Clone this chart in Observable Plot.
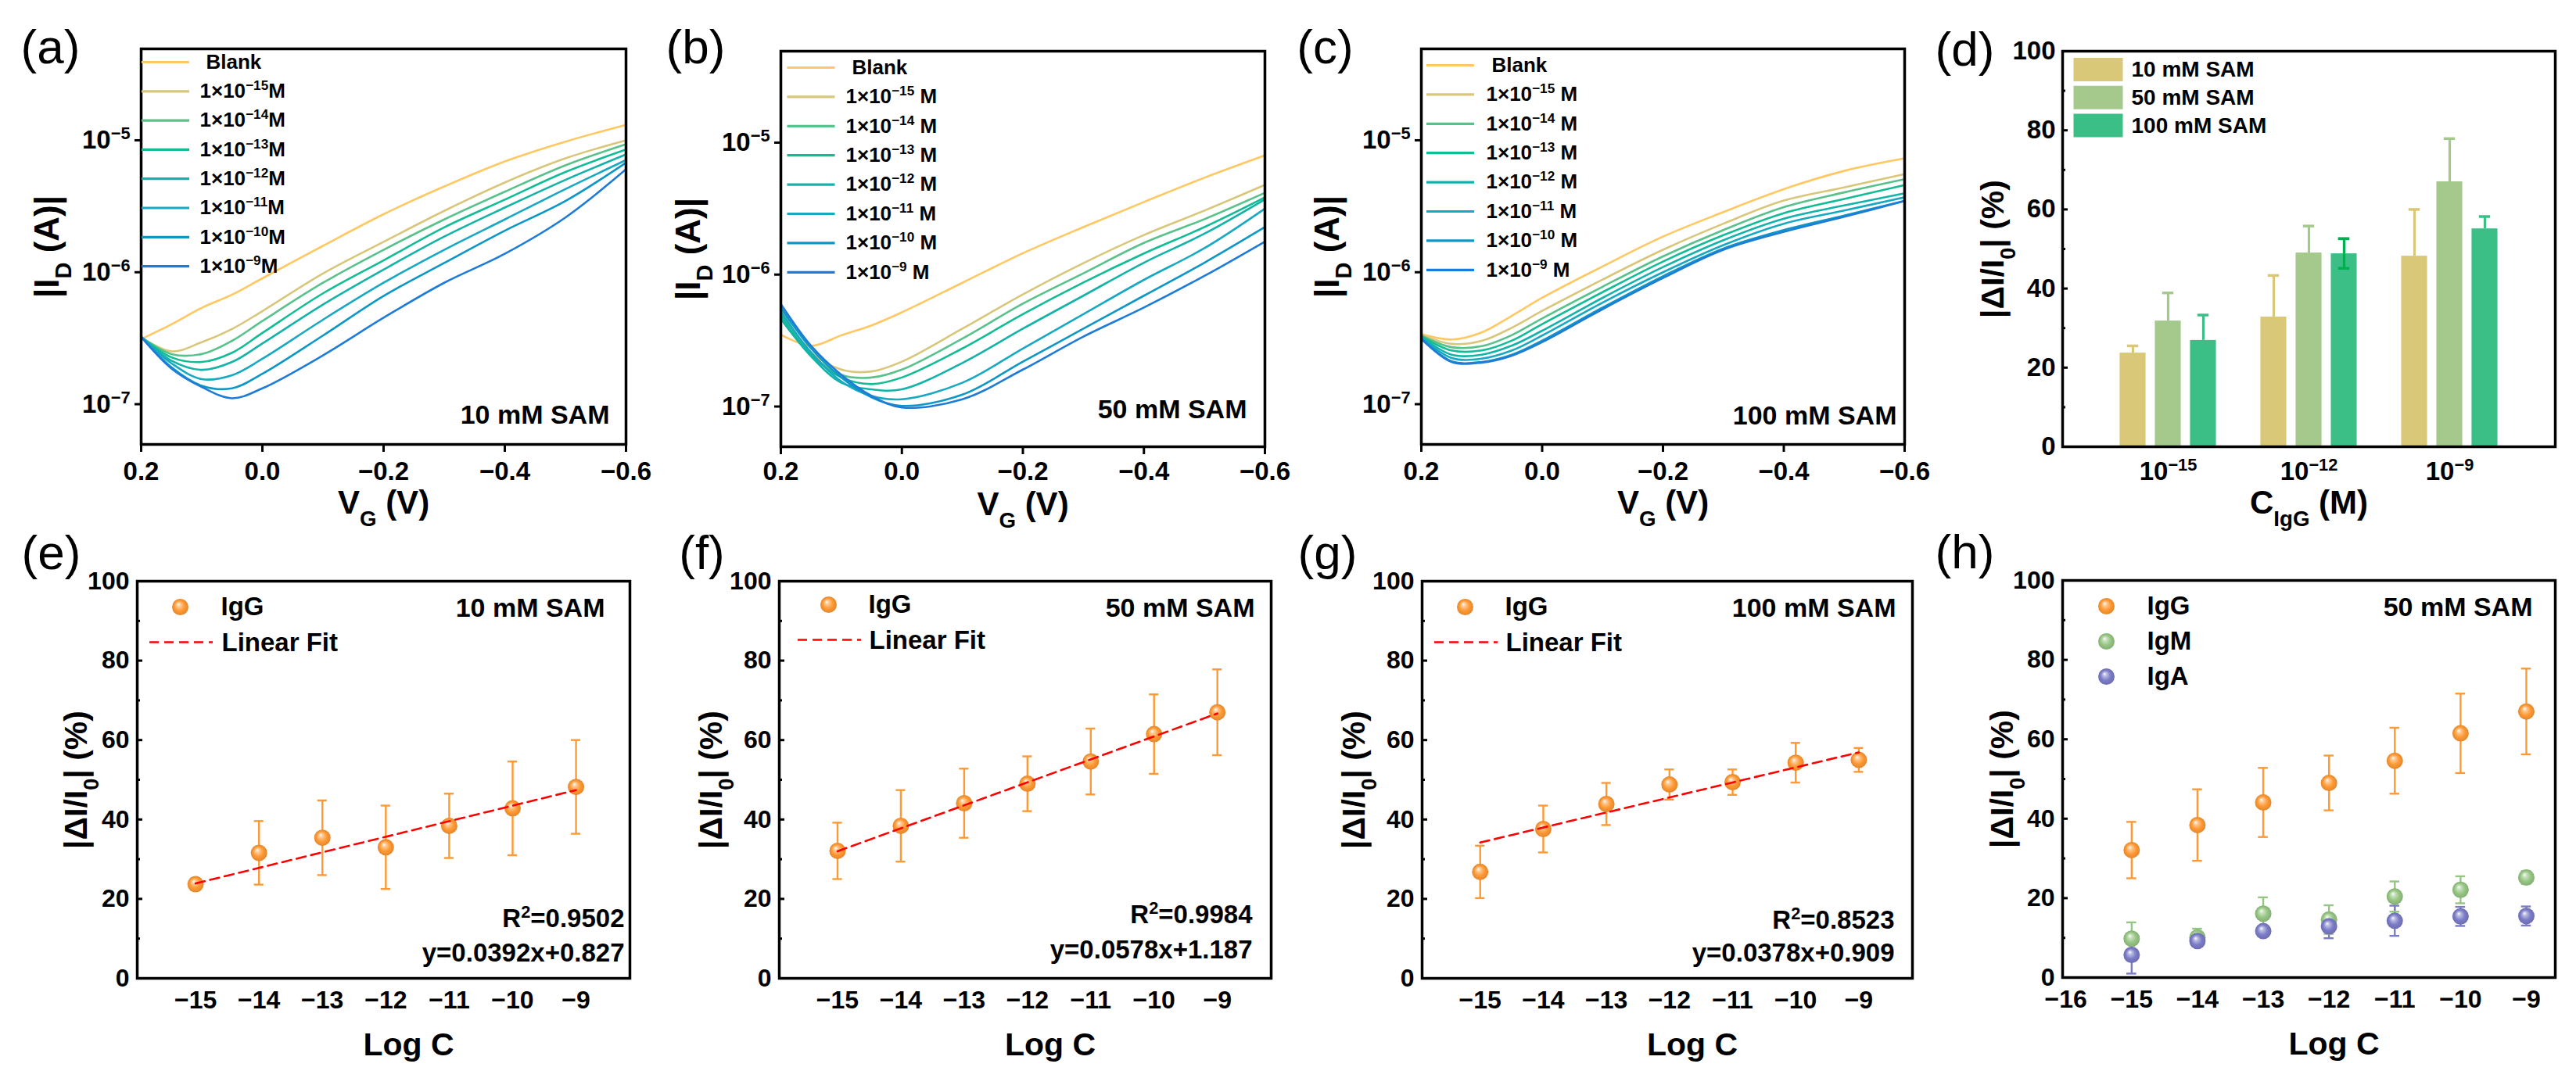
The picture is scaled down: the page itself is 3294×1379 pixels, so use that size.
<!DOCTYPE html>
<html>
<head>
<meta charset="utf-8">
<script src="https://cdn.jsdelivr.net/npm/d3@7"></script>
<script src="https://cdn.jsdelivr.net/npm/@observablehq/plot@0.6"></script>
<style>
  body { margin: 0; background: #fff; }
  #fig { position: relative; width: 3294px; height: 1379px; background: #fff; overflow: hidden; }
  .panel { position: absolute; }
</style>
</head>
<body>
<div id="fig"></div>
<script>
// ---------- transfer curves (a)-(c): log10 |I_D| read at each V_G ----------
const vg = [0.2, 0.15, 0.1, 0.05, 0.0, -0.1, -0.2, -0.3, -0.4, -0.5, -0.6];
const vgTicks = [0.2, 0.0, -0.2, -0.4, -0.6];
const idTicks = [1e-7, 1e-6, 1e-5];
const concExp = [null, "−15", "−14", "−13", "−12", "−11", "−10", "−9"];
const ivColors = ["#FFC862", "#D8C77A", "#58C28A", "#12BC95", "#14B3AA", "#17A9C2", "#0C97C6", "#1E7CD8"];

const logIdA = [
  [-6.507, -6.395, -6.27, -6.17, -6.046, -5.80, -5.56, -5.35, -5.16, -5.01, -4.883],
  [-6.494, -6.60, -6.53, -6.43, -6.295, -6.01, -5.77, -5.535, -5.32, -5.137, -5.0],
  [-6.49, -6.62, -6.62, -6.52, -6.37, -6.08, -5.83, -5.60, -5.39, -5.19, -5.03],
  [-6.49, -6.645, -6.68, -6.61, -6.46, -6.16, -5.91, -5.66, -5.45, -5.24, -5.07],
  [-6.49, -6.67, -6.74, -6.68, -6.54, -6.245, -5.98, -5.73, -5.51, -5.30, -5.107],
  [-6.49, -6.69, -6.81, -6.78, -6.656, -6.36, -6.08, -5.83, -5.60, -5.37, -5.15],
  [-6.49, -6.72, -6.86, -6.88, -6.77, -6.48, -6.18, -5.93, -5.685, -5.46, -5.17],
  [-6.49, -6.73, -6.87, -6.955, -6.88, -6.63, -6.345, -6.08, -5.86, -5.585, -5.22]
];
const logIdB = [
  [-6.455, -6.54, -6.46, -6.385, -6.286, -6.062, -5.838, -5.64, -5.45, -5.266, -5.097],
  [-6.286, -6.59, -6.72, -6.734, -6.66, -6.41, -6.15, -5.913, -5.70, -5.515, -5.32],
  [-6.26, -6.60, -6.76, -6.78, -6.72, -6.485, -6.22, -5.99, -5.76, -5.58, -5.38],
  [-6.31, -6.61, -6.78, -6.83, -6.78, -6.56, -6.30, -6.06, -5.84, -5.64, -5.415],
  [-6.336, -6.62, -6.82, -6.87, -6.87, -6.67, -6.41, -6.16, -5.91, -5.69, -5.43],
  [-6.286, -6.59, -6.81, -6.92, -6.945, -6.82, -6.56, -6.30, -6.04, -5.80, -5.50],
  [-6.25, -6.56, -6.78, -6.93, -6.995, -6.91, -6.66, -6.41, -6.16, -5.91, -5.64],
  [-6.224, -6.54, -6.76, -6.92, -7.007, -6.945, -6.72, -6.47, -6.25, -6.01, -5.75]
];
const logIdC = [
  [-6.468, -6.51, -6.456, -6.33, -6.194, -5.956, -5.73, -5.544, -5.37, -5.232, -5.137],
  [-6.475, -6.543, -6.52, -6.42, -6.293, -6.056, -5.83, -5.632, -5.457, -5.357, -5.257],
  [-6.48, -6.568, -6.56, -6.476, -6.35, -6.11, -5.88, -5.68, -5.507, -5.395, -5.295],
  [-6.485, -6.593, -6.593, -6.518, -6.393, -6.151, -5.919, -5.719, -5.552, -5.444, -5.34],
  [-6.49, -6.625, -6.625, -6.556, -6.443, -6.194, -5.961, -5.757, -5.594, -5.494, -5.402],
  [-6.495, -6.65, -6.655, -6.593, -6.48, -6.23, -6.0, -5.794, -5.632, -5.532, -5.432],
  [-6.5, -6.675, -6.68, -6.625, -6.518, -6.268, -6.03, -5.82, -5.68, -5.57, -5.46],
  [-6.505, -6.68, -6.685, -6.632, -6.53, -6.28, -6.044, -5.83, -5.694, -5.58, -5.46]
];

// ---------- bars (d) ----------
const barGroups = ["−15", "−12", "−9"];
const barSeries = ["10 mM SAM", "50 mM SAM", "100 mM SAM"];
const barColors = ["#D9C878", "#A5C98C", "#3CBF86"];
const bar10 = [23.7, 32.8, 48.2];
const bar10Err = [1.8, 10.5, 11.8];
const bar50 = [31.8, 49.0, 67.0];
const bar50Err = [7.1, 6.8, 10.9];
const bar100 = [26.9, 48.8, 55.1];
const bar100Err = [6.4, 3.8, 3.1];
const bar100Low = [null, 3.7, null];

// ---------- response vs log C (e)-(h) ----------
const logC = [-15, -14, -13, -12, -11, -10, -9];
const igg10 = [23.7, 31.6, 35.4, 33.0, 38.4, 42.8, 48.2];
const igg10Err = [1.5, 8.0, 9.4, 10.5, 8.1, 11.8, 11.8];
const igg50 = [32.1, 38.4, 44.1, 49.0, 54.6, 61.5, 67.0];
const igg50Err = [7.1, 9.0, 8.7, 6.9, 8.3, 10.0, 10.8];
const igg100 = [26.8, 37.6, 43.9, 48.8, 49.4, 54.3, 55.0];
const igg100Err = [6.6, 5.9, 5.3, 3.8, 3.2, 5.0, 3.0];
const igm50 = [9.8, 10.1, 16.1, 14.6, 20.4, 22.1, 25.2];
const igm50Err = [4.1, 2.2, 4.1, 3.6, 3.8, 3.4, 1.6];
const iga50 = [5.7, 9.2, 11.7, 12.9, 14.3, 15.4, 15.5];
const iga50Err = [4.7, 1.0, 1.0, 3.0, 3.8, 2.4, 2.4];
const fitX = [-15, -9];
const fit10 = [23.9, 47.4];
const fit50 = [32.0, 66.7];
const fit100 = [34.2, 56.9];

const FONT = "'Liberation Sans', Arial, Helvetica, sans-serif";
const fig = document.getElementById("fig");

// superscript ^{..} and subscript _{..} inside svg text
function rich(svg) {
  d3.select(svg).selectAll("text").each(function () {
    const s = this.textContent;
    if (!/[\^_]\{/.test(s)) return;
    const el = d3.select(this).text(null);
    for (const part of s.split(/([\^_]\{[^}]*\})/)) {
      if (!part) continue;
      const m = part.match(/^([\^_])\{([^}]*)\}$/);
      const ts = el.append("tspan");
      if (m) ts.text(m[2]).attr("baseline-shift", m[1] === "^" ? "super" : "sub").attr("font-size", "66%");
      else ts.text(part);
    }
  });
}

function place(svg, left, top, w) {
  const div = document.createElement("div");
  div.className = "panel";
  div.style.left = left + "px";
  div.style.top = top + "px";
  div.style.width = w + "px";
  rich(svg);
  div.append(svg);
  fig.append(div);
}

const seg = (w) => ({draw(ctx) { ctx.moveTo(-w / 2, 0); ctx.lineTo(w / 2, 0); }});
const box = (w, h) => ({draw(ctx) { ctx.rect(-w / 2, -h / 2, w, h); }});

function sphereDefs(list) {
  return () => {
    const defs = d3.create("svg:defs");
    for (const [id, c] of list) {
      const g = defs.append("radialGradient").attr("id", id)
        .attr("cx", "50%").attr("cy", "50%").attr("r", "50%").attr("fx", "38%").attr("fy", "32%");
      g.append("stop").attr("offset", "0%").attr("stop-color", "#ffffff");
      g.append("stop").attr("offset", "22%").attr("stop-color", d3.interpolateRgb(c, "#ffffff")(0.5));
      g.append("stop").attr("offset", "62%").attr("stop-color", c);
      g.append("stop").attr("offset", "100%").attr("stop-color", d3.color(c).darker(0.35).formatHex());
    }
    return defs.node();
  };
}

const baseStyle = {fontFamily: FONT, fontWeight: "bold", fontSize: "32px", color: "black", background: "transparent", overflow: "visible", maxWidth: "none"};

// text placed relative to the frame, always centred vertically on its anchor point
const note = (t, o) => Plot.text([t], {lineAnchor: "middle", ...o});

function letter(t, dx, dy) {
  return note(t, {frameAnchor: "top-left", dx, dy, fontSize: 62, fontWeight: "normal", textAnchor: "middle"});
}

// inward y ticks drawn as short rules from the left frame edge
function inTicks(domain, frameW) {
  const upp = (domain[1] - domain[0]) / frameW;
  const x0 = domain[0];
  return [
    Plot.ruleY([20, 40, 60, 80], {x1: x0, x2: x0 + 7 * upp, stroke: "black", strokeWidth: 3}),
    Plot.ruleY([10, 30, 50, 70, 90], {x1: x0, x2: x0 + 4 * upp, stroke: "black", strokeWidth: 3})
  ];
}

// ---------- (a)-(c) ----------
function ivPanel(o) {
  const rows = o.curves.flatMap((c, s) => c.map((v, j) => ({vg: vg[j], id: 10 ** v, s})));
  const legend = ivColors.flatMap((c, i) => {
    const dy = o.legTop + i * o.legStep;
    const txt = i === 0 ? "Blank" : `1×10^{${concExp[i]}}${o.unit}`;
    return [
      Plot.dot([0], {frameAnchor: "top-left", dx: o.legDx, dy, symbol: seg(61), fill: "none", stroke: c, strokeWidth: 3.2}),
      note(txt, {frameAnchor: "top-left", dx: i === 0 ? o.blankDx : o.textDx, dy, textAnchor: "start", fontSize: 26})
    ];
  });
  const svg = Plot.plot({
    width: 820, height: 680,
    marginLeft: o.m[0], marginRight: o.m[1], marginTop: o.m[2], marginBottom: o.m[3],
    style: baseStyle,
    x: {domain: [0.2, -0.6]},
    y: {type: "log", domain: [10 ** -7.305, 10 ** -4.307]},
    color: {type: "identity"},
    marks: [
      Plot.line(rows, {x: "vg", y: "id", z: "s", stroke: d => ivColors[d.s], strokeWidth: 2.6, curve: "catmull-rom"}),
      Plot.frame({stroke: "black", strokeWidth: 3.5}),
      Plot.axisX({ticks: vgTicks, tickFormat: d3.format(".1f"), tickSize: 10, tickPadding: o.tickPad, strokeWidth: 3, fontSize: 33, label: null}),
      Plot.axisY({ticks: idTicks, tickFormat: d => `10^{−${-Math.round(Math.log10(d))}}`, tickSize: 8, tickPadding: 6, strokeWidth: 3, fontSize: 33, label: null}),
      ...legend,
      note(o.note, {frameAnchor: "bottom-right", dx: o.noteDx, dy: o.noteDy, textAnchor: "end", fontSize: 34}),
      note("|I_{D} (A)|", {frameAnchor: "left", dx: o.yLabDx, rotate: -90, textAnchor: "middle", fontSize: 44}),
      note("V_{G} (V)", {frameAnchor: "bottom", dy: o.xLabDy, textAnchor: "middle", fontSize: 42}),
      letter(o.letter, o.letDx, o.letDy)
    ]
  });
  place(svg, o.left, 0, 820);
}

ivPanel({curves: logIdA, left: 0, m: [180, 20, 62, 112], legTop: 17, legStep: 37.3, legDx: 31, blankDx: 83, textDx: 75, unit: "M",
  note: "10 mM SAM", noteDx: -21, noteDy: -37, yLabDx: -120, tickPad: 12, xLabDy: 75, letter: "(a)", letDx: -116, letDy: -1});
ivPanel({curves: logIdB, left: 820, m: [178, 23, 65, 109], legTop: 21, legStep: 37.4, legDx: 38.5, blankDx: 91, textDx: 83, unit: " M",
  note: "50 mM SAM", noteDx: -23, noteDy: -47, yLabDx: -118, tickPad: 9, xLabDy: 74, letter: "(b)", letDx: -109, letDy: -4});
ivPanel({curves: logIdC, left: 1640, m: [177, 25, 62, 112], legTop: 21, legStep: 37.4, legDx: 37, blankDx: 90, textDx: 83, unit: " M",
  note: "100 mM SAM", noteDx: -10, noteDy: -36, yLabDx: -120, tickPad: 12, xLabDy: 75, letter: "(c)", letDx: -123, letDy: -1});

// ---------- (d) ----------
{
  const vals = [bar10, bar50, bar100];
  const errs = [bar10Err, bar50Err, bar100Err];
  const off = [-0.25, 0, 0.25];
  const rows = vals.flatMap((v, s) => v.map((y, g) => ({g, s, v: y, e: errs[s][g], lo: s === 2 ? bar100Low[g] : null})));
  const pos = d => d.g + off[d.s];
  const dom = [-0.75, 2.75];
  const low = rows.filter(d => d.lo != null);
  const legend = barSeries.flatMap((name, i) => [
    Plot.dot([0], {frameAnchor: "top-left", dx: 45.5, dy: 23.5 + i * 35.8, symbol: box(63, 30), fill: barColors[i], stroke: "none"}),
    note(name, {frameAnchor: "top-left", dx: 88, dy: 23.5 + i * 35.8, textAnchor: "start", fontSize: 28})
  ]);
  const svg = Plot.plot({
    width: 834, height: 680,
    marginLeft: 177, marginRight: 27, marginTop: 65, marginBottom: 109,
    style: baseStyle,
    x: {domain: dom},
    y: {domain: [0, 100]},
    color: {type: "identity"},
    marks: [
      ...inTicks(dom, 630),
      Plot.ruleX(rows, {x: pos, y1: "v", y2: d => d.v + d.e, stroke: d => barColors[d.s], strokeWidth: 3.2}),
      Plot.ruleY(rows, {y: d => d.v + d.e, x1: d => pos(d) - 0.04, x2: d => pos(d) + 0.04, stroke: d => barColors[d.s], strokeWidth: 3.5}),
      Plot.rect(rows, {x1: d => pos(d) - 0.092, x2: d => pos(d) + 0.092, y1: 0, y2: "v", fill: d => barColors[d.s]}),
      Plot.ruleX(low, {x: pos, y1: d => d.v - d.lo, y2: d => d.v + d.e, stroke: "#00B050", strokeWidth: 3.2}),
      Plot.ruleY(low, {y: d => d.v - d.lo, x1: d => pos(d) - 0.04, x2: d => pos(d) + 0.04, stroke: "#00B050", strokeWidth: 3.5}),
      Plot.ruleY(low, {y: d => d.v + d.e, x1: d => pos(d) - 0.04, x2: d => pos(d) + 0.04, stroke: "#00B050", strokeWidth: 3.5}),
      Plot.frame({stroke: "black", strokeWidth: 3.5}),
      Plot.axisX({ticks: [0, 1, 2], tickFormat: i => `10^{${barGroups[i]}}`, tickSize: 0, tickPadding: 19, fontSize: 33, label: null}),
      Plot.axisY({ticks: [0, 20, 40, 60, 80, 100], tickSize: 0, tickPadding: 9, fontSize: 33, label: null}),
      ...legend,
      note("|ΔI/I_{0}| (%)", {frameAnchor: "left", dx: -89, rotate: -90, textAnchor: "middle", fontSize: 41}),
      note("C_{IgG} (M)", {frameAnchor: "bottom", dy: 72, textAnchor: "middle", fontSize: 42}),
      letter("(d)", -125, -1)
    ]
  });
  place(svg, 2460, 0, 834);
}

// ---------- (e)-(h) ----------
const orange = "#FF9933", green = "#96C683", purple = "#7B7CC8";

function scatterPanel(o) {
  const frameW = o.W - o.m[0] - o.m[1];
  const rows = o.series.flatMap(s => logC.map((c, i) => ({c, v: s.y[i], e: s.err[i], color: s.color, grad: s.grad})));
  const cap = 0.075;
  const marks = [
    sphereDefs(o.series.map(s => [s.grad, s.color])),
    ...inTicks(o.dom, frameW),
    Plot.ruleX(rows, {x: "c", y1: d => d.v - d.e, y2: d => d.v + d.e, stroke: "color", strokeWidth: 2.4}),
    Plot.ruleY(rows, {y: d => d.v + d.e, x1: d => d.c - cap, x2: d => d.c + cap, stroke: "color", strokeWidth: 2.4}),
    Plot.ruleY(rows, {y: d => d.v - d.e, x1: d => d.c - cap, x2: d => d.c + cap, stroke: "color", strokeWidth: 2.4}),
    Plot.dot(rows, {x: "c", y: "v", r: 10.5, fill: d => `url(#${d.grad})`, stroke: "none"})
  ];
  if (o.fit) {
    marks.push(Plot.line(fitX.map((x, i) => ({x, y: o.fit[i]})), {x: "x", y: "y", stroke: "#FF0000", strokeWidth: 2.6, strokeDasharray: "12,7"}));
  }
  marks.push(
    Plot.frame({stroke: "black", strokeWidth: 3.5}),
    Plot.axisX({ticks: o.xTicks, tickSize: 0, tickPadding: 16, fontSize: 32, label: null}),
    Plot.axisY({ticks: [0, 20, 40, 60, 80, 100], tickSize: 0, tickPadding: 10, fontSize: 32, label: null})
  );
  o.series.forEach((s, i) => {
    const dy = o.leg.dy + i * 45;
    marks.push(
      Plot.dot([0], {frameAnchor: "top-left", dx: o.leg.dx, dy, r: 10.5, fill: `url(#${s.grad})`, stroke: "none"}),
      note(s.name, {frameAnchor: "top-left", dx: o.leg.tx, dy, textAnchor: "start", fontSize: 33})
    );
  });
  if (o.fit) {
    const dy = o.leg.dy + 45;
    marks.push(
      Plot.dot([0], {frameAnchor: "top-left", dx: o.leg.dx + 1, dy, symbol: seg(81), fill: "none", stroke: "#FF0000", strokeWidth: 2.6, strokeDasharray: "12,7"}),
      note("Linear Fit", {frameAnchor: "top-left", dx: o.leg.tx + 1, dy: dy + 1, textAnchor: "start", fontSize: 33}),
      note(o.r2, {frameAnchor: "bottom-right", dx: o.eqDx, dy: o.r2Dy, textAnchor: "end", fontSize: 33}),
      note(o.eq, {frameAnchor: "bottom-right", dx: o.eqDx, dy: o.eqDy, textAnchor: "end", fontSize: 33})
    );
  }
  marks.push(
    note(o.note, {frameAnchor: "top-right", dx: o.noteDx, dy: 35, textAnchor: "end", fontSize: 34}),
    note("|ΔI/I_{0}| (%)", {frameAnchor: "left", dx: o.yLabDx, rotate: -90, textAnchor: "middle", fontSize: 41}),
    note("Log C", {frameAnchor: "bottom", dx: 32, dy: 85, textAnchor: "middle", fontSize: 41}),
    letter(o.letter, o.letDx, -35)
  );
  const svg = Plot.plot({
    width: o.W, height: 699,
    marginLeft: o.m[0], marginRight: o.m[1], marginTop: o.m[2], marginBottom: o.m[3],
    style: baseStyle,
    x: {domain: o.dom},
    y: {domain: [0, 100]},
    color: {type: "identity"},
    marks
  });
  place(svg, o.left, 680, o.W);
}

const domEFG = [-15.92, -8.15];
scatterPanel({left: 0, W: 820, m: [175, 15, 63, 128], dom: domEFG, xTicks: logC,
  series: [{name: "IgG", y: igg10, err: igg10Err, color: orange, grad: "sph-e-g"}],
  fit: fit10, r2: "R^{2}=0.9502", eq: "y=0.0392x+0.827", eqDx: -7, r2Dy: -76, eqDy: -32,
  leg: {dx: 55, dy: 33, tx: 107}, note: "10 mM SAM", noteDx: -32, yLabDx: -78, letter: "(e)", letDx: -110});
scatterPanel({left: 820, W: 820, m: [176, 15, 63, 128], dom: domEFG, xTicks: logC,
  series: [{name: "IgG", y: igg50, err: igg50Err, color: orange, grad: "sph-f-g"}],
  fit: fit50, r2: "R^{2}=0.9984", eq: "y=0.0578x+1.187", eqDx: -24, r2Dy: -81, eqDy: -36,
  leg: {dx: 63, dy: 30, tx: 114}, note: "50 mM SAM", noteDx: -21, yLabDx: -87, letter: "(f)", letDx: -99});
scatterPanel({left: 1640, W: 820, m: [178, 15, 63, 128], dom: domEFG, xTicks: logC,
  series: [{name: "IgG", y: igg100, err: igg100Err, color: orange, grad: "sph-g-g"}],
  fit: fit100, r2: "R^{2}=0.8523", eq: "y=0.0378x+0.909", eqDx: -23, r2Dy: -74, eqDy: -32,
  leg: {dx: 55, dy: 33, tx: 106}, note: "100 mM SAM", noteDx: -21, yLabDx: -87, letter: "(g)", letDx: -121});
scatterPanel({left: 2460, W: 834, m: [177, 27, 62, 129], dom: [-16.05, -8.56], xTicks: [-16, ...logC],
  series: [
    {name: "IgG", y: igg50, err: igg50Err, color: orange, grad: "sph-h-g"},
    {name: "IgM", y: igm50, err: igm50Err, color: green, grad: "sph-h-m"},
    {name: "IgA", y: iga50, err: iga50Err, color: purple, grad: "sph-h-a"}
  ],
  fit: null, leg: {dx: 56, dy: 33, tx: 108}, note: "50 mM SAM", noteDx: -29, yLabDx: -77, letter: "(h)", letDx: -125});
</script>
</body>
</html>
